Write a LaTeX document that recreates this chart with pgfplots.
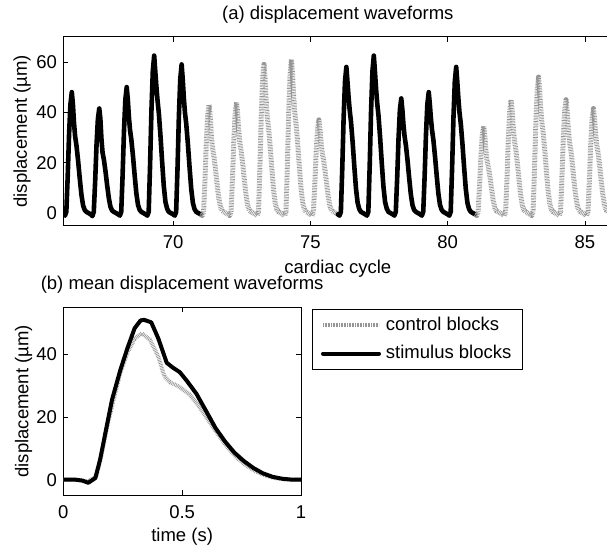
\documentclass[border=0pt]{standalone}
\usepackage{pgfplots}
\pgfplotsset{compat=1.18}
\usepackage{fontspec}
\setmainfont{Liberation Sans}
\definecolor{ctrlgray}{RGB}{150,150,150}
\pgfplotsset{
  mystyle/.style={
    scale only axis,
    tick align=inside,
    major tick length=5pt,
    tick style={black, line width=0.6pt},
    axis line style={line width=0.8pt},
    /pgf/number format/assume math mode=true,
    tick label style={font=\fontsize{18.5}{22}\selectfont},
    label style={font=\fontsize{18.5}{22}\selectfont},
    title style={font=\fontsize{18.5}{22}\selectfont},
    xticklabel style={yshift=-4pt},
  },
  blk/.style={black, line width=4.6pt, line join=round, line cap=round},
  gry/.style={ctrlgray, line width=5pt, line join=round, dash pattern=on 0.7pt off 0.9pt},
  blkb/.style={black, line width=4pt, line join=round, line cap=round},
  gryb/.style={ctrlgray, line width=4pt, line join=round, dash pattern=on 0.7pt off 0.9pt},
}
\begin{document}
\fontsize{18.5}{22}\selectfont
\begin{tikzpicture}[x=1pt,y=1pt,font=\fontsize{18.5}{22}\selectfont]
\path[use as bounding box] (0,0) rectangle (607,546);
\clip (0,0) rectangle (607,546);
\begin{axis}[mystyle,
  at={(63.3pt,320.3pt)}, anchor=south west,
  width=549.1pt, height=189pt,
  xmin=66, xmax=86, ymin=-5, ymax=70,
  xtick={70,75,80,85}, ytick={0,20,40,60},
  title={(a) displacement waveforms},
  title style={at={(axis description cs:0.5,1.087)}, anchor=center},
  xlabel={cardiac cycle},
  xlabel style={at={(axis description cs:0.5,-0.225)}, anchor=center},
  ylabel={displacement (µm)},
  ylabel style={at={(axis description cs:-0.0752,0.5)}, anchor=center},
]
% black segment 66-71
\addplot[blk] coordinates {
(66.00,-0.5) (66.06,-1) (66.11,0.5) (66.16,14.4) (66.21,31.2) (66.26,43.2) (66.31,48) (66.35,43.2) (66.39,35.8) (66.43,30.5) (66.48,26.8) (66.54,20.7) (66.60,13.7) (66.66,7.3) (66.72,3.1) (66.78,1.2) (66.84,0.5) (66.92,0)
(67.00,-0.5) (67.06,-1.2) (67.11,0.5) (67.16,12.5) (67.21,27.0) (67.26,37.4) (67.31,41.5) (67.35,37.4) (67.39,29.3) (67.43,24) (67.48,21.1) (67.54,16.3) (67.60,10.8) (67.66,5.8) (67.72,2.4) (67.78,1.0) (67.84,0.5) (67.92,0)
(68.00,-0.5) (68.06,-1) (68.11,0.5) (68.16,15) (68.21,32.5) (68.26,45) (68.31,50) (68.35,45) (68.39,38.1) (68.43,33) (68.48,29.0) (68.54,22.4) (68.60,14.9) (68.66,7.9) (68.72,3.3) (68.78,1.3) (68.84,0.5) (68.92,0)
(69.00,-0.5) (69.06,-1) (69.11,0.5) (69.16,18.8) (69.21,40.6) (69.26,56.3) (69.31,62.5) (69.35,56.3) (69.39,50.3) (69.43,45) (69.48,39.6) (69.54,30.6) (69.60,20.3) (69.66,10.8) (69.72,4.5) (69.78,1.8) (69.84,0.5) (69.92,0)
(70.00,-0.5) (70.06,-1) (70.11,0.5) (70.16,17.7) (70.21,38.4) (70.26,53.1) (70.31,59) (70.35,53.1) (70.39,45.7) (70.43,40) (70.48,35.2) (70.54,27.2) (70.60,18) (70.66,9.6) (70.72,4) (70.78,1.6) (70.84,0.5) (70.92,0)
(71.00,-0.5)
};
% gray segment 71-76
\addplot[gry] coordinates {
(71.00,-0.5) (71.06,-1) (71.11,0.5) (71.16,12.9) (71.21,28.0) (71.26,38.7) (71.31,43) (71.35,38.7) (71.39,31.1) (71.43,26) (71.48,22.9) (71.54,17.7) (71.60,11.7) (71.66,6.2) (71.72,2.6) (71.78,1.0) (71.84,0.5) (71.92,0)
(72.00,-0.5) (72.06,-1) (72.11,0.5) (72.16,13.2) (72.21,28.6) (72.26,39.6) (72.31,44) (72.35,39.6) (72.39,32.8) (72.43,28) (72.48,24.6) (72.54,19.0) (72.60,12.6) (72.66,6.7) (72.72,2.8) (72.78,1.1) (72.84,0.5) (72.92,0)
(73.00,-0.5) (73.06,-1) (73.11,0.5) (73.16,17.7) (73.21,38.4) (73.26,53.1) (73.31,59) (73.35,53.1) (73.39,44.3) (73.43,38) (73.48,33.4) (73.54,25.8) (73.60,17.1) (73.66,9.1) (73.72,3.8) (73.78,1.5) (73.84,0.5) (73.92,0)
(74.00,-0.5) (74.06,-1) (74.11,0.5) (74.16,18.3) (74.21,39.7) (74.26,54.9) (74.31,61) (74.35,54.9) (74.39,46.3) (74.43,40) (74.48,35.2) (74.54,27.2) (74.60,18) (74.66,9.6) (74.72,4) (74.78,1.6) (74.84,0.5) (74.92,0)
(75.00,-0.5) (75.06,-1) (75.11,0.5) (75.16,11.1) (75.21,24.1) (75.26,33.3) (75.31,37) (75.35,33.3) (75.39,27.9) (75.43,24) (75.48,21.1) (75.54,16.3) (75.60,10.8) (75.66,5.8) (75.72,2.4) (75.78,1.0) (75.84,0.5) (75.92,0)
(76.00,-0.5)
};
% black segment 76-81
\addplot[blk] coordinates {
(76.00,-0.5) (76.06,-1) (76.11,0.5) (76.16,17.4) (76.21,37.7) (76.26,52.2) (76.31,58) (76.35,52.2) (76.39,46.1) (76.43,41) (76.48,36.1) (76.54,27.9) (76.60,18.5) (76.66,9.8) (76.72,4.1) (76.78,1.6) (76.84,0.5) (76.92,0)
(77.00,-0.5) (77.06,-1) (77.11,0.5) (77.16,18.8) (77.21,40.6) (77.26,56.3) (77.31,62.5) (77.35,56.3) (77.39,49.6) (77.43,44) (77.48,38.7) (77.54,29.9) (77.60,19.8) (77.66,10.6) (77.72,4.4) (77.78,1.8) (77.84,0.5) (77.92,0)
(78.00,-0.5) (78.06,-1) (78.11,0.5) (78.16,13.7) (78.21,29.6) (78.26,41.0) (78.31,45.5) (78.35,41.0) (78.39,35.0) (78.43,30.5) (78.48,26.8) (78.54,20.7) (78.60,13.7) (78.66,7.3) (78.72,3.1) (78.78,1.2) (78.84,0.5) (78.92,0)
(79.00,-0.5) (79.06,-1) (79.11,0.5) (79.16,14.4) (79.21,31.2) (79.26,43.2) (79.31,48) (79.35,43.2) (79.39,37.5) (79.43,33) (79.48,29.0) (79.54,22.4) (79.60,14.9) (79.66,7.9) (79.72,3.3) (79.78,1.3) (79.84,0.5) (79.92,0)
(80.00,-0.5) (80.06,-1) (80.11,0.5) (80.16,17.4) (80.21,37.7) (80.26,52.2) (80.31,58) (80.35,52.2) (80.39,45.4) (80.43,40) (80.48,35.2) (80.54,27.2) (80.60,18) (80.66,9.6) (80.72,4) (80.78,1.6) (80.84,0.5) (80.92,0)
(81.00,-0.5)
};
% gray segment 81-86
\addplot[gry] coordinates {
(81.00,-0.5) (81.06,-1) (81.11,0.5) (81.16,10.4) (81.21,22.4) (81.26,31.1) (81.31,34.5) (81.35,31.1) (81.39,25.1) (81.43,21) (81.48,18.5) (81.54,14.3) (81.60,9.5) (81.66,5.0) (81.72,2.1) (81.78,0.8) (81.84,0.5) (81.92,0)
(82.00,-0.5) (82.06,-1) (82.11,0.5) (82.16,13.5) (82.21,29.3) (82.26,40.5) (82.31,45) (82.35,40.5) (82.39,33.8) (82.43,29) (82.48,25.5) (82.54,19.7) (82.60,13.1) (82.66,7.0) (82.72,2.9) (82.78,1.2) (82.84,0.5) (82.92,0)
(83.00,-0.5) (83.06,-1) (83.11,0.5) (83.16,16.2) (83.21,35.1) (83.26,48.6) (83.31,54) (83.35,48.6) (83.39,41.4) (83.43,36) (83.48,31.7) (83.54,24.5) (83.60,16.2) (83.66,8.6) (83.72,3.6) (83.78,1.4) (83.84,0.5) (83.92,0)
(84.00,-0.5) (84.06,-1) (84.11,0.5) (84.16,13.5) (84.21,29.3) (84.26,40.5) (84.31,45) (84.35,40.5) (84.39,33.8) (84.43,29) (84.48,25.5) (84.54,19.7) (84.60,13.1) (84.66,7.0) (84.72,2.9) (84.78,1.2) (84.84,0.5) (84.92,0)
(85.00,-0.5) (85.06,-1) (85.11,0.5) (85.16,12.5) (85.21,27.0) (85.26,37.4) (85.31,41.5) (85.35,37.4) (85.39,31.4) (85.43,27) (85.48,23.8) (85.54,18.4) (85.60,12.2) (85.66,6.5) (85.72,2.7) (85.78,1.1) (85.84,0.5) (85.92,0)
(86.00,-0.5)
};
\end{axis}
\begin{axis}[mystyle,
  at={(63.3pt,50.7pt)}, anchor=south west,
  width=237.7pt, height=188pt,
  xmin=0, xmax=1, ymin=-5, ymax=55,
  xtick={0,0.5,1}, xticklabels={0,0.5,1}, ytick={0,20,40},
  title={(b) mean displacement waveforms},
  title style={at={(axis description cs:0.5,1.09)}, anchor=center},
  xlabel={time (s)},
  xlabel style={at={(axis description cs:0.5,-0.222)}, anchor=center},
  ylabel={displacement (µm)},
  ylabel style={at={(axis description cs:-0.167,0.5)}, anchor=center},
  legend style={at={(1.045,0.991)}, anchor=north west, draw=black, line width=0.6pt,
    font=\fontsize{18.5}{22}\selectfont, inner xsep=9pt, inner ysep=6pt,
    row sep=8pt, column sep=3pt, nodes={inner sep=2pt}},
  legend cell align=left,
  legend image code/.code={\draw[#1] (0pt,0pt) -- (56pt,0pt);},
]
\addplot[gryb] coordinates {
(0,0) (0.05,0) (0.08,-0.3) (0.10,-0.6) (0.125,0.3) (0.14,1.5) (0.16,7.5) (0.185,17) (0.21,25) (0.24,34) (0.27,40.5) (0.30,45) (0.33,46.7) (0.365,44.6) (0.40,39.2) (0.425,33) (0.45,31) (0.48,30) (0.53,27.3) (0.57,23.5) (0.61,19) (0.65,14.5) (0.69,10.4) (0.73,7) (0.77,4.5) (0.81,2.6) (0.85,1.3) (0.89,0.5) (0.93,0.1) (0.97,0) (1.0,0)
};
\addlegendentry{control blocks}
\addplot[blkb] coordinates {
(0,0) (0.05,0) (0.08,-0.3) (0.105,-1) (0.125,0) (0.135,0.5) (0.155,6.5) (0.18,16) (0.205,25.5) (0.24,35) (0.27,42) (0.30,48.3) (0.325,50.8) (0.34,51) (0.37,50.2) (0.40,45) (0.435,37.3) (0.46,35.8) (0.49,34.3) (0.52,31.5) (0.56,27.4) (0.60,22) (0.64,16.5) (0.68,12.2) (0.72,8.6) (0.76,5.9) (0.80,3.7) (0.84,2) (0.88,0.9) (0.92,0.3) (0.96,0) (1.0,0)
};
\addlegendentry{stimulus blocks}
\end{axis}
\end{tikzpicture}
\end{document}
